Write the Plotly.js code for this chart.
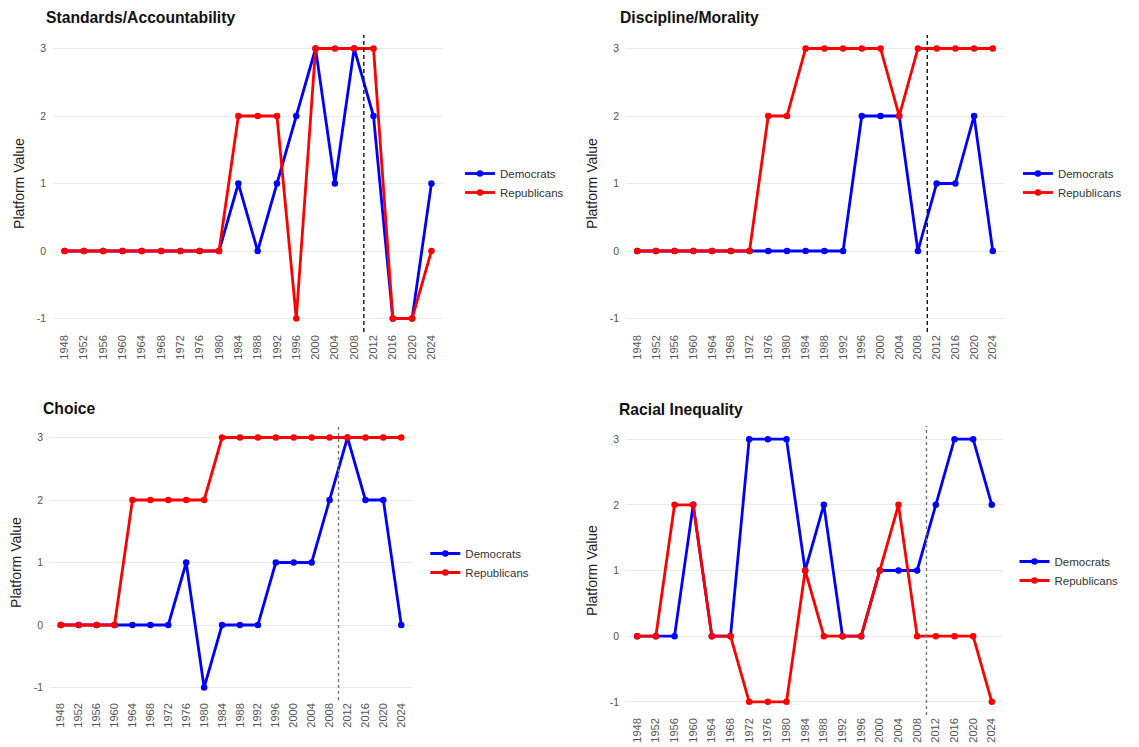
<!DOCTYPE html>
<html><head><meta charset="utf-8">
<script src="https://cdn.plot.ly/plotly-3.0.1.min.js"></script>
<style>
body{margin:0;background:#fff;width:1139px;height:747px;position:relative;overflow:hidden}
.p{position:absolute}
</style></head><body>
<div id="p1" class="p"></div><div id="p2" class="p"></div><div id="p3" class="p"></div><div id="p4" class="p"></div>
<script>
const years = [1948,1952,1956,1960,1964,1968,1972,1976,1980,1984,1988,1992,1996,2000,2004,2008,2012,2016,2020,2024];
const yearLabels = years.map(String);
const seriesNames = ["Democrats","Republicans"];
const titles = ["Standards/Accountability","Discipline/Morality","Choice","Racial Inequality"];
const divider = 2010;

const standardsDem = [0,0,0,0,0,0,0,0,0,1,0,1,2,3,1,3,2,-1,-1,1];
const standardsRep = [0,0,0,0,0,0,0,0,0,2,2,2,-1,3,3,3,3,-1,-1,0];
const disciplineDem = [0,0,0,0,0,0,0,0,0,0,0,0,2,2,2,0,1,1,2,0];
const disciplineRep = [0,0,0,0,0,0,0,2,2,3,3,3,3,3,2,3,3,3,3,3];
const choiceDem = [0,0,0,0,0,0,0,1,-1,0,0,0,1,1,1,2,3,2,2,0];
const choiceRep = [0,0,0,0,2,2,2,2,2,3,3,3,3,3,3,3,3,3,3,3];
const racialDem = [0,0,0,2,0,0,3,3,3,1,2,0,0,1,1,1,2,3,3,2];
const racialRep = [0,0,2,2,0,0,-1,-1,-1,1,0,0,0,1,2,0,0,0,0,-1];

const colors = ["#0000FF","#FF0000"];
const FONT = "Liberation Sans, Arial, sans-serif";

function panel(id, title, dem, rep, c){
  const el = document.getElementById(id);
  el.style.left = c.left+"px"; el.style.top = c.top+"px";
  el.style.width = c.w+"px"; el.style.height = c.h+"px";
  const ml = c.x0 - c.left, mr = c.left + c.w - c.x1;
  const mt = c.y0 - c.top, mb = c.top + c.h - c.y1;
  const pw = c.x1 - c.x0, ph = c.y1 - c.y0;
  const traces = [dem, rep].map((v,i)=>({
    x: years, y: v, name: seriesNames[i], type:"scatter", mode:"lines+markers",
    line:{color:colors[i], width:2.8}, marker:{color:colors[i], size:6.5}
  }));
  const layout = {
    width:c.w, height:c.h, margin:{l:ml, r:mr, t:mt, b:mb, pad:0},
    paper_bgcolor:"#fff", plot_bgcolor:"#fff",
    font:{family:FONT, color:"#222"},
    title:{text:"<b>"+title+"</b>", font:{family:FONT,size:15.7,color:"#111"},
      x:(c.tx-c.left)/c.w, xref:"container", xanchor:"left",
      y:1-(c.ty-c.top)/c.h, yref:"container", yanchor:"middle"},
    xaxis:{range:[1948-2.4, 2024+2.4], tickvals:years, ticktext:yearLabels, tickangle:-90,
      tickfont:{size:11, color:"#555"}, showgrid:false, zeroline:false, showline:false, ticks:"", fixedrange:true},
    yaxis:{range:[-1.2,3.2], tickvals:[-1,0,1,2,3], ticktext:["-1","0","1","2","3"],
      tickfont:{size:10.5,color:"#555"}, gridcolor:"#EBEBEB", gridwidth:1, zeroline:false, showline:false, ticks:"",
      ticklabelstandoff:6,
      title:{text:"Platform Value", font:{size:14,color:"#222"}, standoff:8}, fixedrange:true},
    showlegend:true,
    legend:{x:(c.lx - c.x0)/pw, xanchor:"left", y:1-(c.ly - c.y0)/ph, yanchor:"middle",
      font:{size:11.5,color:"#333"}, itemwidth:30, tracegroupgap:0, bgcolor:"rgba(0,0,0,0)"},
    shapes:[{type:"line", xref:"x", yref:"paper", x0:divider, x1:divider, y0:0, y1:1,
      line:{color:c.dcol, width:1.4, dash:c.dash}}]
  };
  Plotly.newPlot(el, traces, layout, {staticPlot:true, displayModeBar:false});
}

panel("p1", titles[0], standardsDem, standardsRep,
  {left:0, top:0, w:580, h:380, x0:53, x1:444, y0:34.5, y1:332.5, tx:46, ty:18, lx:460, ly:183, dcol:"#111", dash:"4px,3px"});
panel("p2", titles[1], disciplineDem, disciplineRep,
  {left:580, top:0, w:559, h:380, x0:626.4, x1:1017.6, y0:34.5, y1:332.5, tx:620, ty:18, lx:1032, ly:183, dcol:"#111", dash:"4px,3px"});
panel("p3", titles[2], choiceDem, choiceRep,
  {left:0, top:380, w:580, h:367, x0:50.3, x1:411.7, y0:424.5, y1:700.5, tx:43, ty:409, lx:425, ly:563, dcol:"#777", dash:"3px,3px"});
panel("p4", titles[3], racialDem, racialRep,
  {left:580, top:380, w:559, h:367, x0:626.1, x1:1003.5, y0:426.2, y1:714.8, tx:619, ty:410, lx:1015, ly:571, dcol:"#777", dash:"3px,3px"});
</script>
</body></html>
